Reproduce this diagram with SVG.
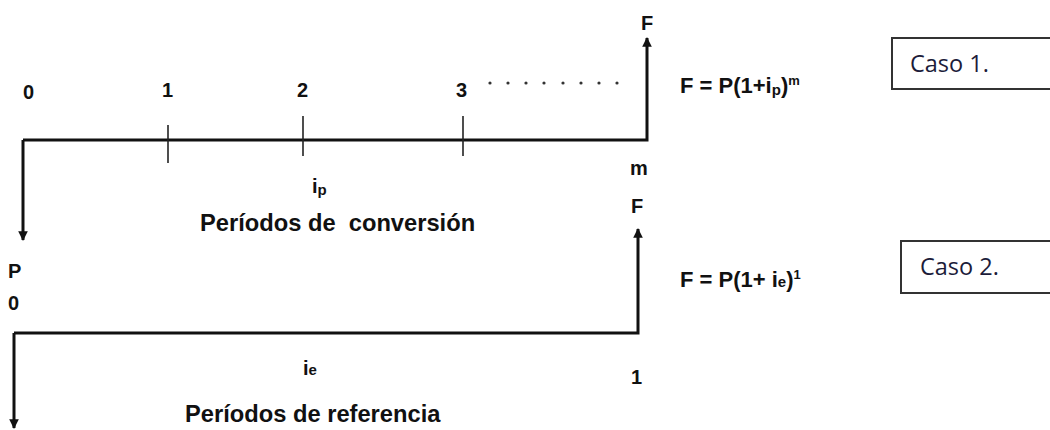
<svg xmlns="http://www.w3.org/2000/svg" width="1050" height="430" viewBox="0 0 1050 430">
<style>
.lbl{font-family:"Liberation Sans",Arial,sans-serif;font-weight:bold;fill:#111;}
.num{font-size:20px;}
.big{font-size:23.7px;}
.frm{font-size:22px;}
.sub{font-size:15px;}
.sup{font-size:13px;}
.caso{font-family:"Open Sans","Liberation Sans",sans-serif;font-size:23.5px;fill:#1c1c3a;}
.line{stroke:#111;stroke-width:3;fill:none;}
.tick{stroke:#222;stroke-width:1.6;}
.box{fill:#fff;stroke:#333;stroke-width:2;}
</style>
<defs>
<marker id="ah" viewBox="0 0 10 10" refX="9" refY="5" markerWidth="3.2" markerHeight="3.2" orient="auto" markerUnits="strokeWidth">
<path d="M0,0 L10,5 L0,10 z" fill="#111"/>
</marker>
</defs>
<rect width="1050" height="430" fill="#fff"/>
<g id="connectors">
<path class="line" d="M23,140 H647 V38" marker-end="url(#ah)"/>
<path class="line" d="M23,140 V240" marker-end="url(#ah)"/>
<path class="line" d="M14,333 H638 V229" marker-end="url(#ah)"/>
<path class="line" d="M14,333 V428" marker-end="url(#ah)"/>
<line class="tick" x1="168" y1="125" x2="168" y2="163"/>
<line class="tick" x1="303" y1="116" x2="303" y2="156"/>
<line class="tick" x1="463" y1="116" x2="463" y2="156"/>
<g fill="#333">
<circle cx="490" cy="83" r="1.6"/><circle cx="508" cy="83" r="1.6"/><circle cx="526" cy="83" r="1.6"/><circle cx="544" cy="83" r="1.6"/>
<circle cx="563" cy="83" r="1.6"/><circle cx="581" cy="83" r="1.6"/><circle cx="599" cy="83" r="1.6"/><circle cx="617" cy="83" r="1.6"/>
</g>
</g>
<g id="case1">
<text class="lbl num" x="23" y="99">0</text>
<text class="lbl num" x="162" y="97">1</text>
<text class="lbl num" x="297" y="97">2</text>
<text class="lbl num" x="456" y="97">3</text>
<text class="lbl num" x="641" y="30">F</text>
<text class="lbl num" x="630" y="175">m</text>
<text class="lbl num" x="312" y="193">i<tspan class="sub" dy="2">p</tspan></text>
<text class="lbl big" x="200" y="231" xml:space="preserve">Períodos de  conversión</text>
<text class="lbl frm" x="680" y="93">F = P(1+i<tspan class="sub" dy="2">p</tspan><tspan dy="-2">)</tspan><tspan class="sup" dy="-8">m</tspan></text>
</g>
<g id="case1-box">
<rect class="box" x="892" y="38" width="170" height="51"/>
<text class="caso" x="910" y="72">Caso 1.</text>
</g>
<g id="case2">
<text class="lbl num" x="631" y="213">F</text>
<text class="lbl num" x="8" y="278">P</text>
<text class="lbl num" x="8" y="310">0</text>
<text class="lbl num" x="631" y="384">1</text>
<text class="lbl num" x="303" y="375">i<tspan class="sub">e</tspan></text>
<text class="lbl big" x="185" y="422">Períodos de referencia</text>
<text class="lbl frm" x="680" y="287">F = P(1+ i<tspan class="sub">e</tspan>)<tspan class="sup" dy="-8">1</tspan></text>
</g>
<g id="case2-box">
<rect class="box" x="901" y="241" width="170" height="52"/>
<text class="caso" x="920" y="275">Caso 2.</text>
</g>
</svg>
